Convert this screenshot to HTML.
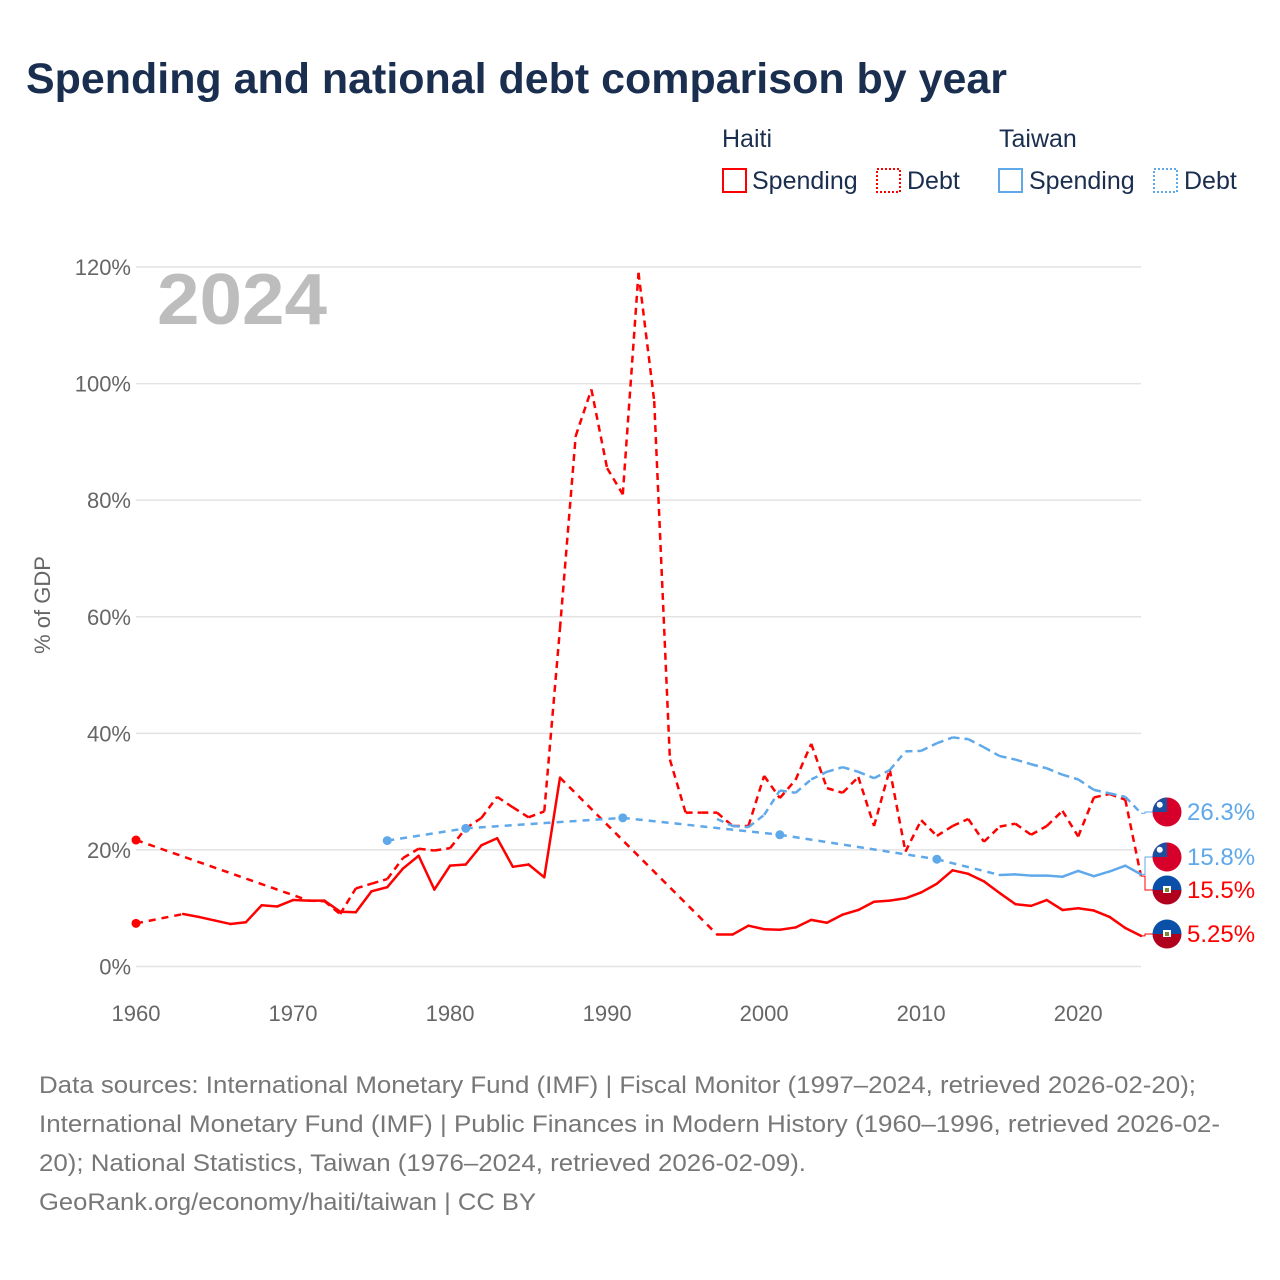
<!DOCTYPE html>
<html><head><meta charset="utf-8"><style>
body{margin:0;background:#fff;font-family:"Liberation Sans",sans-serif;}
#wrap{position:relative;width:1280px;height:1280px;overflow:hidden;}
</style></head><body>
<div id="wrap">
<svg id="chart" width="1280" height="1280" style="position:absolute;left:0;top:0">
<text x="26" y="93" font-size="43" font-weight="bold" fill="#1a2e4f" textLength="981" lengthAdjust="spacingAndGlyphs">Spending and national debt comparison by year</text>
<g font-size="25" fill="#1a2e4f">
<text x="722" y="147">Haiti</text>
<text x="999" y="147">Taiwan</text>
<g><rect x="723" y="169" width="23" height="23" fill="none" stroke="#f00" stroke-width="2"/><text x="752" y="189">Spending</text></g>
<g><rect x="877" y="169" width="23" height="23" fill="none" stroke="#f00" stroke-width="2" stroke-dasharray="2,2"/><text x="907" y="189">Debt</text></g>
<g><rect x="999" y="169" width="23" height="23" fill="none" stroke="#5fa8ea" stroke-width="2"/><text x="1029" y="189">Spending</text></g>
<g><rect x="1154" y="169" width="23" height="23" fill="none" stroke="#5fa8ea" stroke-width="2" stroke-dasharray="2,2"/><text x="1184" y="189">Debt</text></g>
</g>
<text x="157" y="324" font-size="72" font-weight="bold" fill="#bdbdbd" textLength="170" lengthAdjust="spacingAndGlyphs">2024</text>
<text transform="translate(50,605) rotate(-90)" text-anchor="middle" font-size="22" fill="#666">% of GDP</text>
<g id="grid"></g><g id="series"></g><g id="labels"></g>
<g font-size="24" fill="#777">
<text x="39" y="1093" textLength="1157" lengthAdjust="spacingAndGlyphs">Data sources: International Monetary Fund (IMF) | Fiscal Monitor (1997–2024, retrieved 2026-02-20);</text>
<text x="39" y="1132" textLength="1181" lengthAdjust="spacingAndGlyphs">International Monetary Fund (IMF) | Public Finances in Modern History (1960–1996, retrieved 2026-02-</text>
<text x="39" y="1171" textLength="767" lengthAdjust="spacingAndGlyphs">20); National Statistics, Taiwan (1976–2024, retrieved 2026-02-09).</text>
<text x="39" y="1210" textLength="497" lengthAdjust="spacingAndGlyphs">GeoRank.org/economy/haiti/taiwan | CC BY</text>
</g>
</svg>
</div>
<script>
const yTicks=[0,20,40,60,80,100,120];
const xTicks=[1960,1970,1980,1990,2000,2010,2020];
const haitiSpendYears=[1960,1963,1964,1965,1966,1967,1968,1969,1970,1971,1972,1973,1974,1975,1976,1977,1978,1979,1980,1981,1982,1983,1984,1985,1986,1987,1997,1998,1999,2000,2001,2002,2003,2004,2005,2006,2007,2008,2009,2010,2011,2012,2013,2014,2015,2016,2017,2018,2019,2020,2021,2022,2023,2024];
const haitiSpend=[7.4,9.0,8.5,7.9,7.3,7.6,10.5,10.3,11.4,11.3,11.3,9.4,9.3,12.9,13.6,16.8,19.0,13.2,17.3,17.5,20.8,22.0,17.1,17.5,15.3,32.4,5.5,5.5,7.0,6.4,6.3,6.7,8.0,7.5,8.9,9.7,11.1,11.3,11.7,12.7,14.2,16.5,15.9,14.6,12.6,10.7,10.4,11.4,9.7,10.0,9.6,8.5,6.6,5.25];
const haitiDebtYears=[1960,1971,1972,1973,1974,1975,1976,1977,1978,1979,1980,1981,1982,1983,1984,1985,1986,1987,1988,1989,1990,1991,1992,1993,1994,1995,1996,1997,1998,1999,2000,2001,2002,2003,2004,2005,2006,2007,2008,2009,2010,2011,2012,2013,2014,2015,2016,2017,2018,2019,2020,2021,2022,2023,2024];
const haitiDebt=[21.7,11.3,11.2,9.0,13.4,14.2,15.0,18.6,20.2,19.9,20.3,23.7,25.5,29.1,27.3,25.6,26.6,58,91,99,85.5,81,119,97,35.5,26.4,26.4,26.4,24.1,24.1,32.7,28.9,32.0,38.2,30.6,29.8,32.5,24.1,33.8,19.7,25.1,22.4,24.1,25.3,21.4,24.0,24.5,22.6,24.1,26.7,22.3,29.0,29.6,28.6,15.5];
const taiwanAYears=[1997,1998,1999,2000,2001,2002,2003,2004,2005,2006,2007,2008,2009,2010,2011,2012,2013,2014,2015,2016,2017,2018,2019,2020,2021,2022,2023,2024];
const taiwanA=[25.3,24.1,23.9,26.0,30.2,29.8,32.1,33.4,34.2,33.4,32.3,33.7,36.9,37.0,38.3,39.3,39.0,37.6,36.1,35.5,34.7,34.0,32.9,32.1,30.3,29.7,29.1,26.3];
const taiwanBYears=[1976,1981,1991,2001,2011,2015,2016,2017,2018,2019,2020,2021,2022,2023,2024];
const taiwanB=[21.6,23.7,25.5,22.6,18.4,15.7,15.8,15.6,15.6,15.4,16.4,15.5,16.3,17.3,15.8];
const endLabels=["26.3%","15.8%","15.5%","5.25%"];

const X0=136,X1=1141,Y0=966.5,Y1=267;
const xs=y=>X0+(y-1960)/(2024-1960)*(X1-X0);
const ys=v=>Y0-v/120*(Y0-Y1);
const NS="http://www.w3.org/2000/svg";
function mk(tag,attrs,parent){const e=document.createElementNS(NS,tag);for(const k in attrs)e.setAttribute(k,attrs[k]);parent.appendChild(e);return e;}
const grid=document.getElementById('grid');
yTicks.forEach(t=>{
  const l=mk('line',{x1:X0,x2:X1,y1:ys(t),y2:ys(t),stroke:'#e3e3e3','stroke-width':1.5},grid);
  
  
  const tx=mk('text',{x:131,y:ys(t)+8,'text-anchor':'end','font-size':22,fill:'#666'},grid);
  tx.textContent=t+'%';
  
  
});
xTicks.forEach(t=>{
  const tx=mk('text',{x:xs(t),y:1021,'text-anchor':'middle','font-size':22,fill:'#666'},grid);
  tx.textContent=t;
  
  
});
const sg=document.getElementById('series');
function drawSeries(years,vals,color,mainDash,name){
  const g=mk('g',{},sg);
  
  
  for(let i=0;i<years.length-1;i++){
    const gap=years[i+1]-years[i]>1;
    const l=mk('line',{x1:xs(years[i]),y1:ys(vals[i]),x2:xs(years[i+1]),y2:ys(vals[i+1]),stroke:color,'stroke-width':2.5,'stroke-linecap':'round'},g);
    const d=gap?'7,6':mainDash;
    if(d){l.setAttribute('stroke-dasharray',d);l.setAttribute('stroke-linecap','butt');}
    
    
  }
  for(let i=0;i<years.length;i++){
    const pg=i===0||years[i]-years[i-1]>1, ng=i===years.length-1||years[i+1]-years[i]>1;
    if(pg&&ng&&i!==years.length-1){
      const c=mk('circle',{cx:xs(years[i]),cy:ys(vals[i]),r:4.5,fill:color},g);
      
      
    }
  }
}
drawSeries(haitiSpendYears,haitiSpend,'#f00','', 'haiti-spending-line');
drawSeries(haitiDebtYears,haitiDebt,'#f00','7,5','haiti-debt-line');
drawSeries(taiwanAYears,taiwanA,'#5fa8ea','7,5','taiwan-debt-line');
drawSeries(taiwanBYears,taiwanB,'#5fa8ea','','taiwan-spending-line');

const lg=document.getElementById('labels');
const labY=[812,857,890,934];
const labC=['#5fa8ea','#5fa8ea','#f00','#f00'];
const labFlag=['tw','tw','ht','ht'];
const ends=[taiwanA[taiwanA.length-1],taiwanB[taiwanB.length-1],haitiDebt[haitiDebt.length-1],haitiSpend[haitiSpend.length-1]];
endLabels.forEach((t,i)=>{
  const g=mk('g',{},lg);
  
  
  const yv=ys(ends[i]);
  mk('polyline',{points:`${X1},${yv} ${X1+4},${yv} ${X1+4},${labY[i]} ${X1+12},${labY[i]}`,fill:'none',stroke:labC[i],'stroke-width':1},g);
  const cx=1167,cy=labY[i],r=14.5;
  const cp='cp'+i;
  const defs=mk('defs',{},g);const clip=mk('clipPath',{id:cp},defs);mk('circle',{cx,cy,r},clip);
  const f=mk('g',{'clip-path':`url(#${cp})`},g);
  
  
  if(labFlag[i]==='tw'){
    mk('rect',{x:cx-r,y:cy-r,width:2*r,height:2*r,fill:'#d7002a'},f);
    mk('rect',{x:cx-r,y:cy-r,width:r,height:r,fill:'#1d4fa0'},f);
    mk('circle',{cx:cx-r/2,cy:cy-r/2,r:3,fill:'#fff'},f);
  }else{
    mk('rect',{x:cx-r,y:cy-r,width:2*r,height:r,fill:'#0a4fa8'},f);
    mk('rect',{x:cx-r,y:cy,width:2*r,height:r,fill:'#b0001e'},f);
    mk('rect',{x:cx-4,y:cy-4,width:8,height:7,fill:'#fff'},f);
    mk('rect',{x:cx-2,y:cy-2,width:4,height:4,fill:'#7a8a30'},f);
  }
  const tx=mk('text',{x:1187,y:labY[i]+8,'font-size':24,fill:labC[i]},g);
  tx.textContent=t;
});
</script>
</body></html>
